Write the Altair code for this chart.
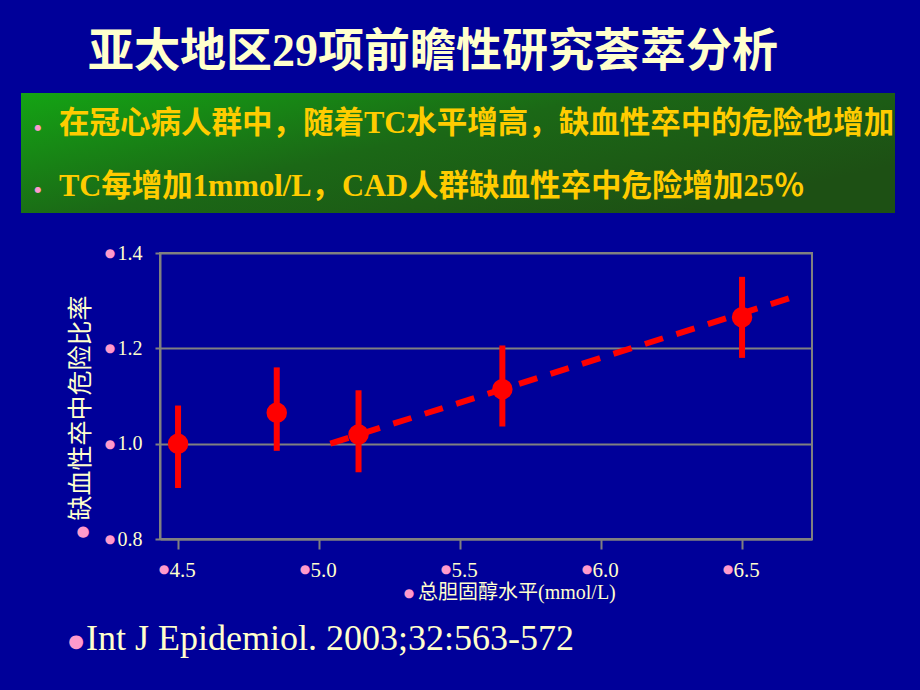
import altair as alt
import pandas as pd

# ---- data ----
tc = [4.5, 4.85, 5.14, 5.65, 6.5]
hr = [1.0, 1.065, 1.019, 1.114, 1.265]
hr_lo = [0.907, 0.985, 0.94, 1.036, 1.18]
hr_hi = [1.08, 1.16, 1.112, 1.206, 1.35]
trend_x = [5.04, 6.667]
trend_y = [1.0, 1.305]
x_ticks = [4.5, 5.0, 5.5, 6.0, 6.5]
y_ticks = [0.8, 1.0, 1.2, 1.4]

title_text = "亚太地区29项前瞻性研究荟萃分析"
bullet1_text = "在冠心病人群中，随着TC水平增高，缺血性卒中的危险也增加"
bullet2_text = "TC每增加1mmol/L，CAD人群缺血性卒中危险增加25％"
y_title_text = "缺血性卒中危险比率"
x_title_text = "总胆固醇水平(mmol/L)"
source_text = "Int J Epidemiol. 2003;32:563-572"

BG = "#000099"
CREAM = "#FFFFCC"
PINK = "#FF99CC"
GOLD = "#FFCC00"
RED = "#FF0000"
GRID = "#808080"
SERIF = "Liberation Serif, Noto Sans CJK SC"

pts = pd.DataFrame({"x": tc, "y": hr, "lo": hr_lo, "hi": hr_hi})
trend = pd.DataFrame({"x": trend_x, "y": trend_y})
xt = pd.DataFrame({"x": x_ticks})
yt = pd.DataFrame({"y": y_ticks})

xs = alt.Scale(domain=[4.436, 6.748], nice=False, zero=False)
ys = alt.Scale(domain=[0.8, 1.4], nice=False, zero=False)
xaxis = alt.Axis(values=x_ticks, format=".1f", title=None, grid=False,
                 tickSize=10, labelPadding=10, labelOffset=4,
                 domainColor=GRID, domainWidth=2, tickColor=GRID, tickWidth=2,
                 labelColor=CREAM, labelFont="Liberation Serif", labelFontSize=21)
yaxis = alt.Axis(values=y_ticks, format=".1f", title=None, grid=True,
                 gridColor=GRID, gridWidth=2, gridOpacity=1,
                 tickSize=5, labelPadding=13,
                 domainColor=GRID, domainWidth=2, tickColor=GRID, tickWidth=2,
                 labelColor=CREAM, labelFont="Liberation Serif", labelFontSize=20)


def txt(s):
    return pd.DataFrame({"t": [s]})


# green box
box = alt.Chart(txt("")).mark_rect(
    color=alt.LinearGradient(
        gradient="linear",
        stops=[alt.GradientStop(color="#14A414", offset=0),
               alt.GradientStop(color="#1B6816", offset=0.5),
               alt.GradientStop(color="#1D5014", offset=1)],
        x1=0, x2=1, y1=0, y2=0.6)
).encode(x=alt.value(-139), x2=alt.value(735), y=alt.value(-160), y2=alt.value(-40))

title = alt.Chart(txt(title_text)).mark_text(
    font=SERIF, fontSize=46, fontWeight="bold", color=CREAM, align="center", baseline="middle"
).encode(text="t:N", x=alt.value(273), y=alt.value(-201))

b1 = alt.Chart(txt(bullet1_text)).mark_text(
    font=SERIF, fontSize=30.5, fontWeight="bold", color=GOLD, align="left", baseline="middle"
).encode(text="t:N", x=alt.value(-101), y=alt.value(-129))
b2 = alt.Chart(txt(bullet2_text)).mark_text(
    font=SERIF, fontSize=30.5, fontWeight="bold", color=GOLD, align="left", baseline="middle"
).encode(text="t:N", x=alt.value(-101), y=alt.value(-66))
dot1 = alt.Chart(txt("●")).mark_text(fontSize=8, color=PINK, font="DejaVu Sans").encode(
    text="t:N", x=alt.value(-122), y=alt.value(-125))
dot2 = alt.Chart(txt("●")).mark_text(fontSize=8, color=PINK, font="DejaVu Sans").encode(
    text="t:N", x=alt.value(-122), y=alt.value(-63))

ytitle = alt.Chart(txt(y_title_text)).mark_text(
    font=SERIF, fontSize=25, color=CREAM, angle=270, align="center", baseline="middle"
).encode(text="t:N", x=alt.value(-79), y=alt.value(155))
ytitle_dot = alt.Chart(txt("●")).mark_text(fontSize=15, color=PINK, font="DejaVu Sans").encode(
    text="t:N", x=alt.value(-77), y=alt.value(278))

xtitle = alt.Chart(txt(x_title_text)).mark_text(
    font=SERIF, fontSize=20, color=CREAM, align="left", baseline="middle"
).encode(text="t:N", x=alt.value(258), y=alt.value(340))
xtitle_dot = alt.Chart(txt("●")).mark_text(fontSize=12, color=PINK, font="DejaVu Sans").encode(
    text="t:N", x=alt.value(249), y=alt.value(340))

src = alt.Chart(txt(source_text)).mark_text(
    font="Liberation Serif", fontSize=36, color=CREAM, align="left", baseline="middle"
).encode(text="t:N", x=alt.value(-74), y=alt.value(386))
src_dot = alt.Chart(txt("●")).mark_text(fontSize=18, color=PINK, font="DejaVu Sans").encode(
    text="t:N", x=alt.value(-84), y=alt.value(389))

# tick-label bullets
xdots = alt.Chart(xt).mark_text(text="●", fontSize=12, color=PINK, font="DejaVu Sans", dx=-14).encode(
    x=alt.X("x:Q", scale=xs, axis=xaxis), y=alt.value(316))
ydots = alt.Chart(yt).mark_text(text="●", fontSize=12, color=PINK, font="DejaVu Sans").encode(
    x=alt.value(-50), y=alt.Y("y:Q", scale=ys, axis=yaxis))

bars = alt.Chart(pts).mark_rule(color=RED, strokeWidth=6).encode(
    x=alt.X("x:Q", scale=xs, axis=xaxis),
    y=alt.Y("lo:Q", scale=ys, axis=yaxis),
    y2="hi:Q")
line = alt.Chart(trend).mark_line(color=RED, strokeWidth=6, strokeDash=[19, 14], strokeCap="butt").encode(
    x=alt.X("x:Q", scale=xs, axis=xaxis),
    y=alt.Y("y:Q", scale=ys, axis=yaxis))
dots = alt.Chart(pts).mark_circle(color=RED, size=420, opacity=1).encode(
    x=alt.X("x:Q", scale=xs, axis=xaxis),
    y=alt.Y("y:Q", scale=ys, axis=yaxis))

chart = alt.layer(
    box, title, b1, b2, dot1, dot2, ytitle, ytitle_dot, xtitle, xtitle_dot, src, src_dot,
    xdots, ydots, line, bars, dots
).properties(
    width=652, height=286,
    autosize=alt.AutoSizeParams(type="none"),
    padding={"left": 160, "top": 253, "right": 108, "bottom": 151},
    background=BG,
).configure_view(stroke=GRID, strokeWidth=2, fill=BG)

chart.save("out.html", embed_options={"renderer": "svg", "actions": False})
